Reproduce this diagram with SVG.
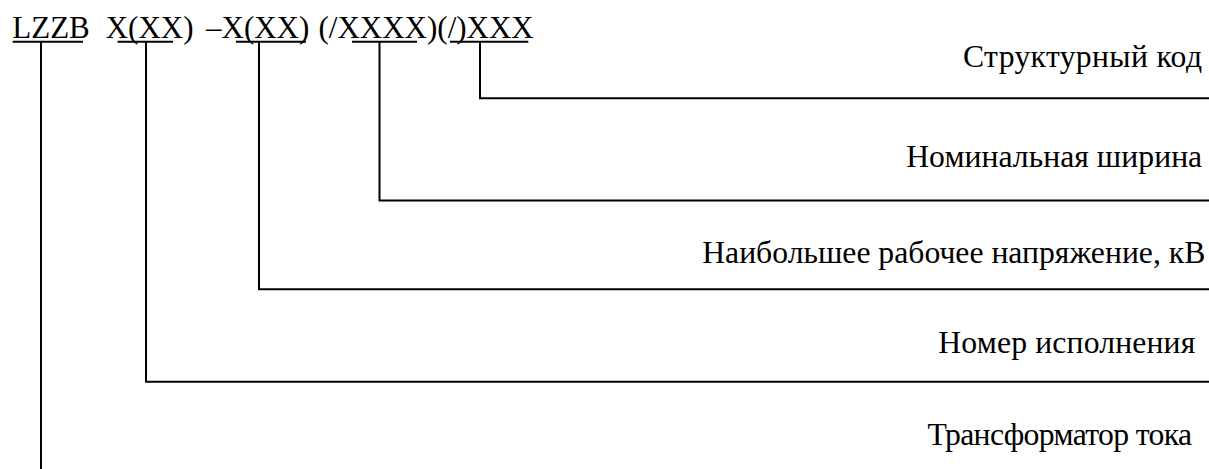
<svg xmlns="http://www.w3.org/2000/svg" width="1209" height="469" viewBox="0 0 1209 469">
<style>
text{font-family:'Liberation Serif','Times New Roman',serif;fill:#000}
.h{font-size:31px}
.r{font-size:31.7px;text-anchor:end}
.c{stroke:#000;stroke-width:2;fill:none}
</style>
<rect width="1209" height="469" fill="#fff"/>
<g id="code">
<text class="h" y="37.6"><tspan x="12.3">LZZB</tspan><tspan x="105.7">X(XX)</tspan><tspan x="206">–X(XX)</tspan><tspan x="318.5">(/XXXX)(/)XXX</tspan></text>
</g>
<g id="underlines" class="c">
<line x1="12.7" y1="41.7" x2="83" y2="41.7"/>
<line x1="117.5" y1="41.7" x2="173" y2="41.7"/>
<line x1="236" y1="41.7" x2="306" y2="41.7"/>
<line x1="352" y1="41.7" x2="417" y2="41.7"/>
<line x1="450" y1="41.7" x2="528.3" y2="41.7"/>
</g>
<g id="n1"><text class="r" x="1202" y="66.7" textLength="239" lengthAdjust="spacing">Структурный код</text></g>
<g id="n2"><text class="r" x="1202.2" y="166.7" textLength="296" lengthAdjust="spacing">Номинальная ширина</text></g>
<g id="n3"><text class="r" x="1205.3" y="263.3">Наибольшее рабочее напряжение, кВ</text></g>
<g id="n4"><text class="r" x="1195.3" y="353.3" textLength="257" lengthAdjust="spacing">Номер исполнения</text></g>
<g id="n5"><text class="r" x="1192" y="445" textLength="264.5" lengthAdjust="spacing">Трансформатор тока</text></g>
<g id="connectors" class="c">
<polyline points="480,41.7 480,98.3 1209,98.3"/>
<polyline points="379.5,41.7 379.5,200.5 1209,200.5"/>
<polyline points="259,41.7 259,289.3 1209,289.3"/>
<polyline points="146,41.7 146,381.7 1209,381.7"/>
<line x1="41" y1="41.7" x2="41" y2="469"/>
</g>
</svg>
